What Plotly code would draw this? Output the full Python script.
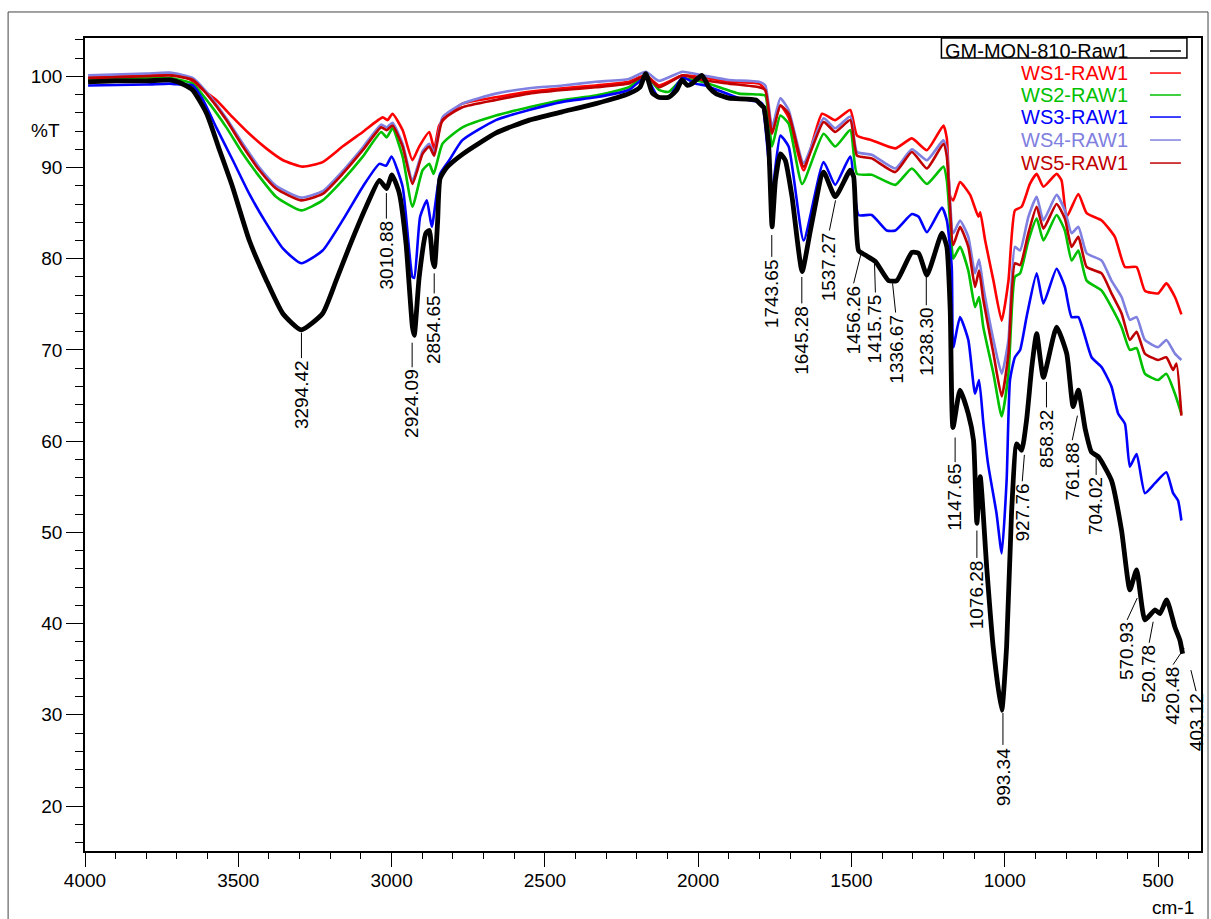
import plotly.graph_objects as go

# ---------------- data (wavenumber cm-1, %T) ----------------
gm_wn = [3990, 3900, 3800, 3724, 3690, 3649, 3603, 3561, 3519, 3464, 3408, 3355, 3295, 3225, 3181, 3138,
         3083, 3040, 3016, 2999, 2975, 2953, 2932, 2926, 2910, 2888, 2877, 2866, 2860, 2850, 2842, 2820,
         2767, 2659, 2551, 2444, 2334, 2226, 2190, 2171, 2150, 2129, 2096, 2070, 2053, 2035, 2020, 1988,
         1965, 1942, 1900, 1812, 1793, 1786, 1770, 1759, 1748, 1732, 1716, 1694, 1661, 1634, 1591, 1553,
         1504, 1493, 1477, 1455, 1422, 1379, 1352, 1303, 1281, 1254, 1205, 1189, 1178, 1169, 1146, 1119,
         1102, 1091, 1080, 1059, 1038, 1010, 994, 978, 961, 945, 929, 912, 896, 874, 831, 798, 777, 760,
         738, 717, 695, 652, 619, 592, 570, 543, 510, 494, 472, 445, 429, 420]
gm_t = [99.4, 99.5, 99.5, 99.6, 99.3, 98.5, 95.9, 91.9, 87.9, 82.0, 77.6, 74.0, 72.2, 74.0, 77.6, 81.3,
        85.7, 88.6, 87.7, 89.2, 87.2, 81.7, 72.5, 71.6, 78.0, 82.8, 83.1, 79.8, 79.1, 84.0, 88.8, 90.0,
        91.5, 93.8, 95.2, 96.1, 97.0, 98.1, 98.8, 100.3, 98.2, 97.7, 97.7, 98.5, 99.6, 99.0, 99.2, 100.1,
        98.8, 98.1, 97.6, 97.4, 96.8, 96.6, 92.3, 83.5, 88.6, 91.5, 90.8, 86.8, 78.6, 83.1, 89.5, 86.8,
        89.7, 89.0, 80.9, 80.4, 79.7, 77.6, 77.6, 80.7, 80.6, 78.2, 82.8, 81.3, 74.4, 61.5, 65.6, 63.0,
        60.1, 51.0, 56.1, 46.2, 37.5, 30.5, 37.5, 52.1, 59.7, 59.0, 62.3, 68.1, 71.8, 67.0, 72.5, 69.6, 63.8, 65.6,
        61.4, 58.8, 58.3, 55.7, 50.2, 43.7, 45.9, 40.4, 41.5, 41.1, 42.6, 39.6, 38.2, 36.7]

ws1_wn = [3990, 3900, 3800, 3724, 3659, 3615, 3572, 3518, 3464, 3409, 3354, 3290, 3225, 3160, 3094, 3029,
          3013, 2997, 2964, 2932, 2910, 2877, 2861, 2845, 2812, 2769, 2660, 2552, 2442, 2334, 2226, 2171,
          2128, 2051, 1987, 1900, 1802, 1781, 1759, 1732, 1705, 1656, 1596, 1553, 1504, 1482, 1434, 1357,
          1303, 1254, 1200, 1189, 1178, 1168, 1146, 1113, 1086, 1080, 1064, 1037, 1010, 988, 967, 945, 918,
          896, 874, 831, 815, 798, 760, 733, 684, 641, 608, 570, 543, 500, 473, 445, 424]
ws1_t = [99.9, 100.0, 100.1, 100.3, 99.7, 98.5, 97.4, 95.5, 93.7, 92.1, 90.8, 90.1, 90.6, 92.3, 93.9, 95.5,
         95.2, 95.9, 94.1, 90.8, 92.3, 93.9, 92.0, 94.6, 95.9, 97.0, 97.7, 98.3, 98.7, 99.0, 99.4, 100.1,
         99.0, 100.1, 99.9, 99.4, 99.2, 98.5, 94.1, 96.8, 95.5, 89.7, 95.9, 95.2, 96.3, 93.5, 93.0, 92.1,
         93.2, 91.9, 94.6, 93.2, 86.8, 86.4, 88.4, 87.0, 84.6, 85.1, 82.0, 77.6, 73.2, 77.6, 85.3, 85.7, 88.2,
         89.3, 87.9, 89.3, 88.6, 84.6, 87.1, 85.0, 84.2, 82.4, 79.1, 79.1, 76.5, 76.2, 77.3, 75.8, 73.9]

ws2_wn = [3990, 3800, 3724, 3649, 3594, 3539, 3485, 3431, 3377, 3295, 3225, 3160, 3094, 3034, 3016, 2997,
          2964, 2932, 2899, 2877, 2863, 2834, 2769, 2660, 2552, 2442, 2334, 2226, 2171, 2128, 2096, 2051,
          1987, 1922, 1867, 1802, 1781, 1759, 1732, 1705, 1661, 1591, 1553, 1504, 1482, 1434, 1357, 1303,
          1254, 1200, 1189, 1173, 1168, 1146, 1119, 1097, 1084, 1070, 1037, 1010, 988, 967, 950, 923, 896,
          874, 831, 804, 782, 760, 733, 684, 652, 619, 592, 570, 543, 500, 473, 445, 424]
ws2_t = [99.6, 99.8, 99.8, 99.2, 97.0, 94.4, 91.5, 89.0, 86.8, 85.3, 86.4, 88.6, 91.2, 93.9, 93.3, 94.3,
         91.2, 85.7, 89.7, 90.4, 89.3, 92.6, 94.4, 95.7, 96.6, 97.4, 97.9, 98.8, 100.1, 98.5, 98.3, 99.7,
         99.4, 98.7, 98.1, 98.0, 97.9, 92.3, 95.7, 94.8, 88.2, 93.7, 92.3, 94.1, 89.3, 89.2, 88.1, 89.9,
         88.2, 90.1, 88.6, 81.3, 80.0, 81.3, 78.7, 74.7, 75.8, 72.5, 67.4, 62.7, 67.4, 78.0, 78.4, 82.0, 84.4,
         82.0, 84.8, 83.1, 79.8, 80.9, 77.6, 76.5, 74.7, 72.5, 70.0, 70.2, 67.4, 66.7, 67.4, 65.2, 63.0]

ws3_wn = [3990, 3800, 3724, 3690, 3649, 3615, 3572, 3518, 3464, 3409, 3354, 3295, 3225, 3160, 3094, 3040,
          3018, 3000, 2964, 2932, 2926, 2907, 2885, 2869, 2842, 2812, 2769, 2660, 2552, 2442, 2334, 2226,
          2171, 2128, 2096, 2051, 2009, 1976, 1922, 1867, 1802, 1791, 1759, 1732, 1705, 1656, 1591, 1553,
          1504, 1477, 1434, 1385, 1357, 1303, 1281, 1254, 1205, 1189, 1173, 1168, 1146, 1119, 1097, 1084,
          1070, 1055, 1027, 1010, 994, 983, 967, 950, 929, 896, 874, 831, 804, 782, 760, 717, 684, 652,
          630, 608, 592, 570, 543, 510, 473, 451, 435, 424]
ws3_t = [99.0, 99.1, 99.2, 99.1, 99.0, 97.4, 94.4, 90.8, 87.1, 83.9, 81.1, 79.5, 80.9, 84.2, 87.9, 90.4,
         90.2, 91.2, 87.9, 78.0, 77.9, 84.6, 86.4, 83.5, 89.3, 90.8, 93.0, 95.2, 96.3, 97.2, 97.7, 98.5,
         99.9, 97.6, 97.7, 99.9, 99.2, 99.0, 98.3, 97.6, 97.2, 97.0, 87.5, 93.5, 92.3, 82.0, 90.6, 88.1,
         91.2, 84.8, 84.8, 83.1, 83.1, 84.9, 84.6, 82.9, 85.6, 84.2, 79.1, 70.3, 73.6, 71.1, 65.2, 66.7,
         62.0, 57.6, 52.1, 47.7, 55.7, 66.7, 69.2, 70.0, 73.6, 78.4, 75.1, 78.9, 76.9, 73.6, 73.6, 69.2, 68.1, 66.0,
         63.0, 61.9, 57.2, 58.6, 54.3, 55.4, 56.6, 54.3, 53.5, 51.3]

ws4_wn = [3990, 3800, 3724, 3648, 3594, 3539, 3485, 3431, 3377, 3295, 3225, 3160, 3094, 3034, 3016, 2997,
          2964, 2932, 2899, 2877, 2861, 2834, 2769, 2660, 2552, 2442, 2334, 2226, 2171, 2128, 2051, 1987,
          1900, 1802, 1781, 1759, 1732, 1705, 1656, 1591, 1553, 1504, 1482, 1434, 1357, 1303, 1254, 1200,
          1189, 1168, 1146, 1119, 1097, 1084, 1070, 1037, 1010, 988, 967, 950, 923, 896, 874, 831, 804, 782,
          760, 733, 684, 652, 619, 592, 570, 543, 500, 473, 445, 424]
ws4_t = [100.1, 100.3, 100.4, 99.8, 97.9, 95.4, 92.6, 90.0, 88.0, 86.7, 87.4, 89.6, 92.2, 94.7, 94.4, 94.9,
         92.6, 88.6, 91.8, 92.6, 91.6, 95.5, 97.0, 98.1, 98.7, 99.0, 99.4, 99.7, 100.5, 99.5, 100.5, 100.1,
         99.6, 99.4, 99.0, 94.4, 97.6, 96.3, 90.5, 95.4, 94.3, 95.6, 91.7, 91.4, 89.9, 92.0, 90.8, 93.0,
         91.8, 82.8, 84.2, 82.4, 78.4, 79.9, 76.9, 71.1, 67.4, 71.1, 81.3, 80.9, 84.6, 86.8, 84.2, 87.0, 85.3, 82.8,
         83.5, 80.6, 79.8, 77.6, 75.8, 73.3, 73.6, 71.1, 70.3, 71.1, 69.6, 68.9]

ws5_wn = [3990, 3800, 3724, 3648, 3594, 3539, 3485, 3431, 3377, 3295, 3225, 3160, 3094, 3034, 3016, 2997,
          2964, 2932, 2899, 2877, 2861, 2834, 2769, 2660, 2552, 2442, 2334, 2226, 2171, 2128, 2051, 1987,
          1900, 1802, 1781, 1759, 1732, 1705, 1656, 1591, 1553, 1504, 1482, 1434, 1357, 1303, 1254, 1200,
          1189, 1168, 1146, 1119, 1097, 1084, 1070, 1037, 1010, 988, 967, 950, 923, 896, 874, 831, 804, 782,
          760, 733, 684, 652, 619, 592, 570, 543, 500, 473, 451, 440, 424]
ws5_t = [99.8, 100.0, 100.1, 99.6, 97.7, 95.2, 92.3, 89.7, 87.7, 86.4, 87.1, 89.3, 91.9, 94.4, 94.1, 94.6,
         92.3, 88.2, 91.5, 92.3, 91.3, 95.2, 96.6, 97.4, 98.1, 98.5, 98.8, 99.2, 100.1, 98.8, 100.1, 99.6,
         99.2, 98.8, 98.5, 93.7, 96.8, 95.9, 90.1, 95.0, 93.9, 95.2, 91.3, 91.0, 89.5, 91.7, 89.9, 92.6,
         91.2, 81.5, 83.5, 81.3, 76.9, 78.7, 75.5, 69.6, 64.9, 69.6, 79.5, 79.3, 82.8, 85.7, 83.3, 86.0, 84.4, 81.3,
         82.4, 79.1, 78.4, 76.2, 74.0, 71.1, 72.0, 69.6, 68.9, 69.2, 67.8, 68.5, 62.8]

series_names = ["GM-MON-810-Raw1", "WS1-RAW1", "WS2-RAW1", "WS3-RAW1", "WS4-RAW1", "WS5-RAW1"]
series_colors = ["#000000", "#ff0000", "#00c000", "#0000ff", "#8080e0", "#c00000"]

# peak labels: text, leader start (wn, %T), text top (wn, %T)
peak_text = ["3294.42", "3010.88", "2924.09", "2854.65", "1743.65", "1645.28", "1537.27", "1456.26",
             "1415.75", "1336.67", "1238.30", "1147.65", "1076.28", "993.34", "927.76", "858.32",
             "761.88", "704.02", "570.93", "520.78", "420.48", "403.12"]
peak_start_wn = [3294, 3017, 2933, 2861, 1760, 1662, 1552, 1470, 1425, 1366, 1256, 1162, 1091, 1006,
                 936, 864, 763, 702, 568, 516, 415, 393]
peak_start_t = [71.9, 87.2, 70.8, 78.4, 82.6, 78.0, 86.4, 80.4, 79.6, 77.3, 78.0, 60.4, 50.2, 30.2,
                58.5, 66.5, 62.8, 58.5, 42.8, 40.2, 37.3, 34.9]
peak_text_wn = [3294, 3017, 2933, 2861, 1760, 1662, 1572, 1493, 1422, 1356, 1256, 1162, 1091, 1006,
                943, 864, 780, 702, 601, 529, 451, 376]
peak_text_t = [69.1, 84.4, 68.1, 76.2, 80.2, 75.1, 83.1, 77.3, 76.3, 74.1, 74.9, 57.7, 47.2, 26.7,
               55.6, 63.7, 60.1, 56.3, 40.4, 37.9, 35.5, 32.6]

x_major = [4000, 3500, 3000, 2500, 2000, 1500, 1000, 500]
y_major = [20, 30, 40, 50, 60, 70, 80, 90, 100]

FONT = "Liberation Sans, Arial, Helvetica, sans-serif"

fig = go.Figure()
colored = [(ws1_wn, ws1_t), (ws2_wn, ws2_t), (ws3_wn, ws3_t), (ws4_wn, ws4_t), (ws5_wn, ws5_t)]
for i, (xw, yt) in enumerate(colored):
    fig.add_trace(go.Scatter(x=xw, y=yt, mode="lines", name=series_names[i + 1],
                             line=dict(color=series_colors[i + 1], width=2.6, shape="spline", smoothing=0.5),
                             showlegend=False))
fig.add_trace(go.Scatter(x=gm_wn, y=gm_t, mode="lines", name=series_names[0],
                         line=dict(color=series_colors[0], width=4.8, shape="spline", smoothing=0.5),
                         showlegend=False))

shapes = []
annotations = []
for txt, sx, sy, tx, ty in zip(peak_text, peak_start_wn, peak_start_t, peak_text_wn, peak_text_t):
    shapes.append(dict(type="line", xref="x", yref="y", x0=sx, y0=sy, x1=tx, y1=ty,
                       line=dict(color="black", width=1)))
    annotations.append(dict(x=tx, y=ty, xref="x", yref="y", text=txt, showarrow=False,
                            textangle=-90, xanchor="center", yanchor="top",
                            font=dict(family=FONT, size=19, color="black")))

# legend (text, then a short line sample), first entry boxed
leg_y = [0.984, 0.9569, 0.9299, 0.9028, 0.8745, 0.8462]
for name, col, yy in zip(series_names, series_colors, leg_y):
    annotations.append(dict(x=0.9366, y=yy, xref="paper", yref="paper", text=name, showarrow=False,
                            xanchor="right", yanchor="middle",
                            font=dict(family=FONT, size=20, color=col)))
    shapes.append(dict(type="line", xref="paper", yref="paper", x0=0.9543, x1=0.982, y0=yy, y1=yy,
                       line=dict(color=col, width=1.5)))
shapes.append(dict(type="rect", xref="paper", yref="paper", x0=0.7674, x1=0.9874, y0=0.9754, y1=1.0,
                   line=dict(color="black", width=1.5), fillcolor="rgba(0,0,0,0)"))

# outer frame of the figure
shapes.append(dict(type="rect", xref="paper", yref="paper", x0=-0.0689, x1=1.0063, y0=-0.1, y1=1.032,
                   line=dict(color="#444444", width=1), fillcolor="rgba(0,0,0,0)"))

annotations.append(dict(x=-0.0358, y=0.8868, xref="paper", yref="paper", text="%T", showarrow=False,
                        xanchor="center", yanchor="middle", font=dict(family=FONT, size=19, color="black")))
annotations.append(dict(x=0.9955, y=-0.0689, xref="paper", yref="paper", text="cm-1", showarrow=False,
                        xanchor="right", yanchor="middle", font=dict(family=FONT, size=19, color="black")))

fig.update_layout(
    width=1211, height=919,
    margin=dict(l=85, r=8, t=38, b=68),
    paper_bgcolor="white", plot_bgcolor="white",
    font=dict(family=FONT, size=19, color="black"),
    shapes=shapes, annotations=annotations,
    showlegend=False,
)
fig.update_xaxes(range=[4000, 360], tickmode="array", tickvals=x_major,
                 ticktext=[str(v) for v in x_major],
                 ticks="outside", ticklen=14, tickwidth=1.3, tickcolor="black",
                 ticklabelstandoff=-3,
                 minor=dict(dtick=100, tick0=0, ticks="outside", ticklen=6, tickwidth=1.3, tickcolor="black"),
                 showline=True, linecolor="black", linewidth=1.5, mirror=True,
                 showgrid=False, zeroline=False, tickfont=dict(family=FONT, size=19, color="black"))
fig.update_yaxes(range=[15.07, 104.2], tickmode="array", tickvals=y_major,
                 ticktext=[str(v) for v in y_major],
                 ticks="outside", ticklen=17, tickwidth=1.3, tickcolor="black",
                 minor=dict(dtick=2, tick0=0, ticks="outside", ticklen=8, tickwidth=1.3, tickcolor="black"),
                 showline=True, linecolor="black", linewidth=1.5, mirror=True,
                 showgrid=False, zeroline=False, tickfont=dict(family=FONT, size=19, color="black"))

fig.write_html("out.html")
